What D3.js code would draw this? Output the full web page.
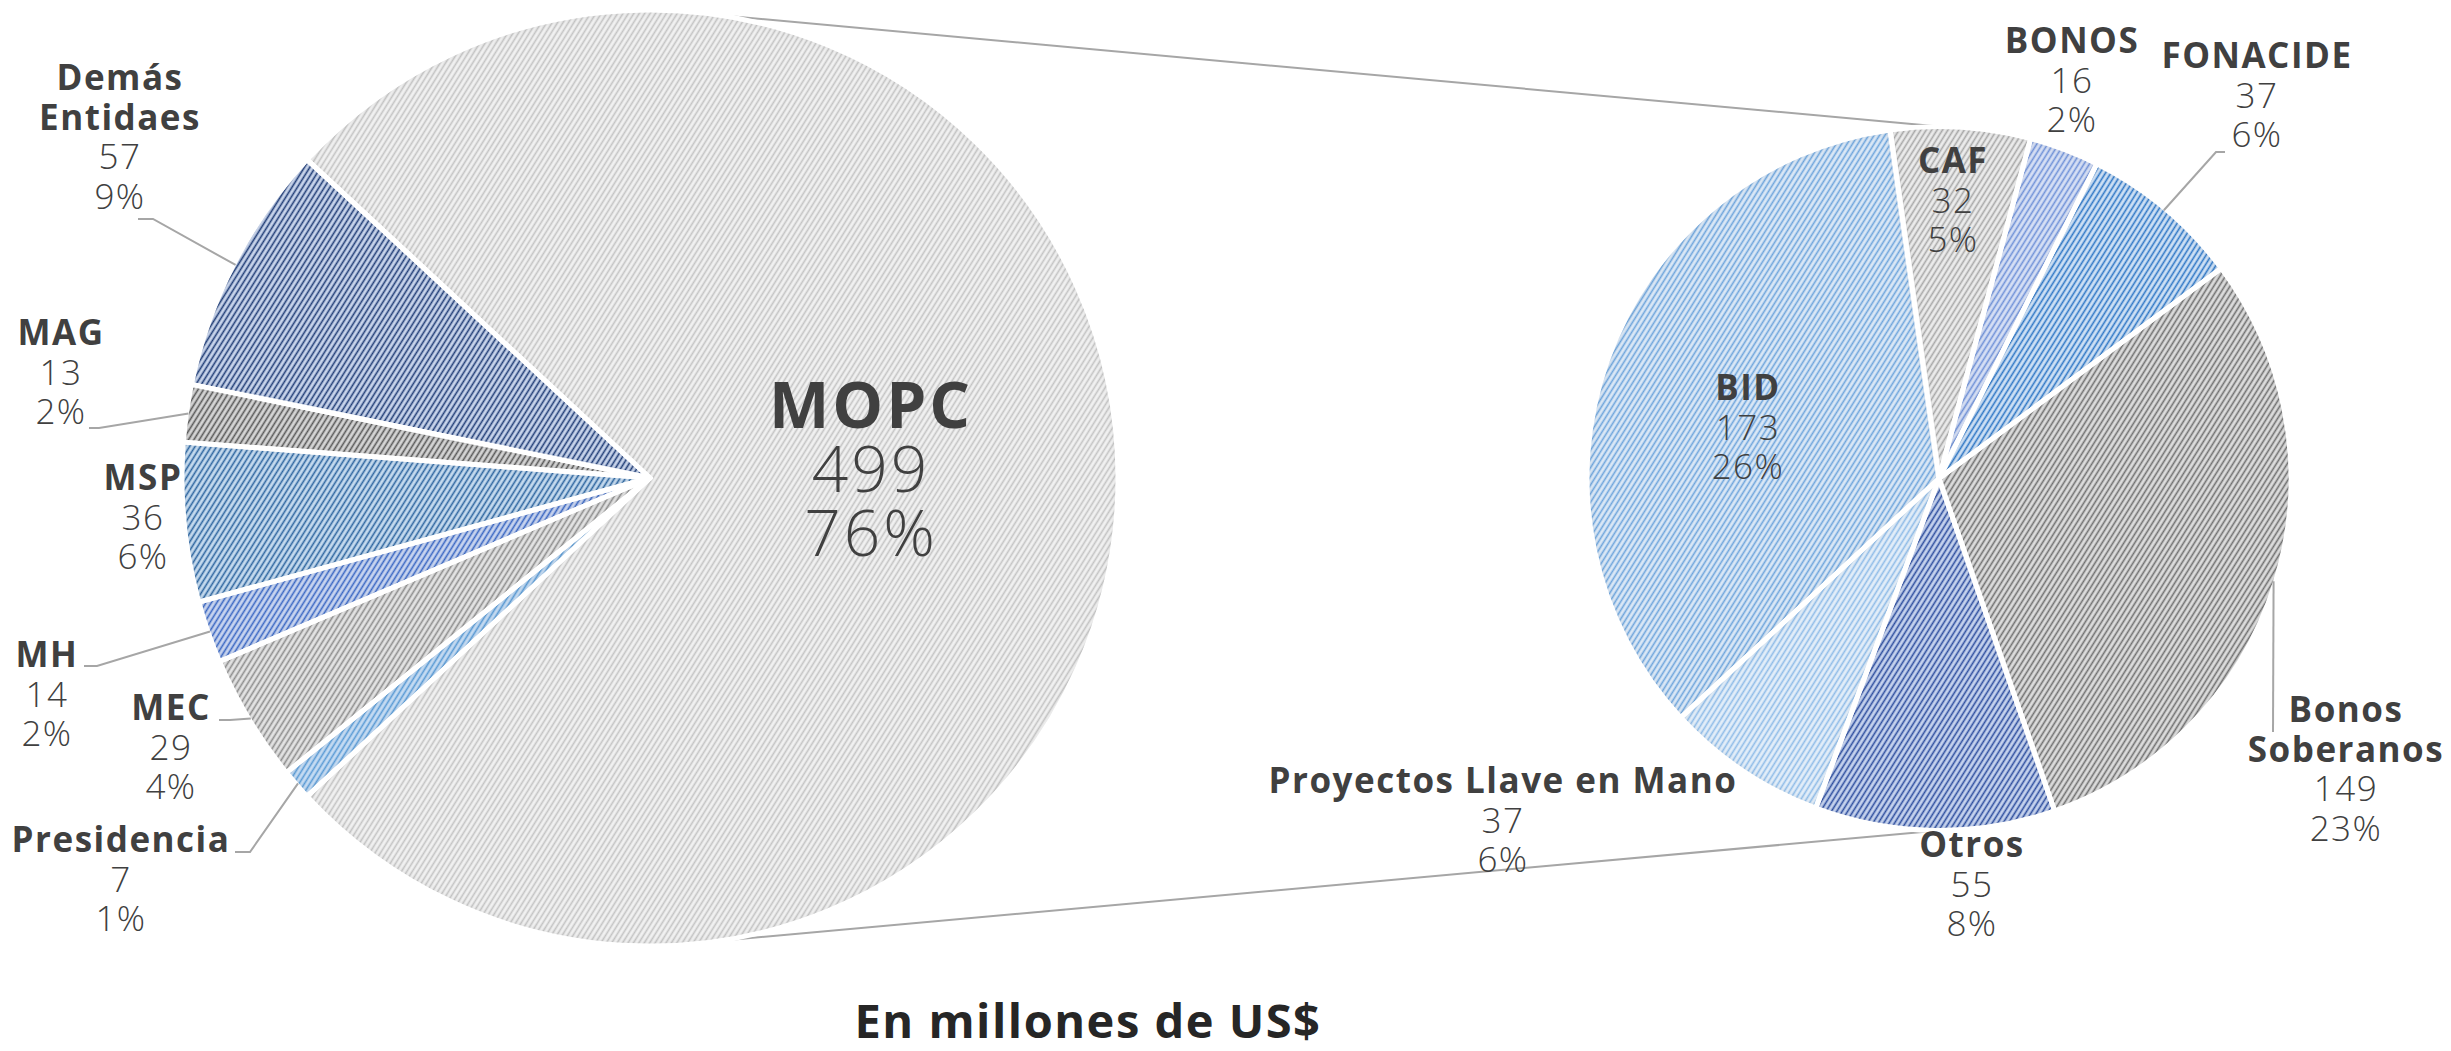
<!DOCTYPE html>
<html>
<head>
<meta charset="utf-8">
<script src="https://cdn.jsdelivr.net/npm/d3@7"></script>
<style>
  body { margin: 0; background: #fff; }
  text { font-family: "Open Sans", sans-serif; fill: #404040; }
</style>
</head>
<body>
<script>
// primer pie: entidades
var entidades = ["MOPC", "Presidencia", "MEC", "MH", "MSP", "MAG", "Demás Entidaes"];
var montos = [499, 7, 29, 14, 36, 13, 57];
var porcentajes = [76, 1, 4, 2, 6, 2, 9];

// segundo pie: fuentes del MOPC
var fuentes = ["CAF", "BONOS", "FONACIDE", "Bonos Soberanos", "Otros", "Proyectos Llave en Mano", "BID"];
var montosFuente = [32, 16, 37, 149, 55, 37, 173];
var porcentajesFuente = [5, 2, 6, 23, 8, 6, 26];

var titulo = "En millones de US$";

// estilos (fondo, trama)
var colores = {
	"MOPC": ["#f1f1f1", "#c4c4c4"],
	"Presidencia": ["#c6dcf3", "#5b9bd5"],
	"MEC": ["#e4e4e4", "#8e8e8e"],
	"MH": ["#c9d5f0", "#3b68c4"],
	"MSP": ["#c6dbef", "#2f66a0"],
	"MAG": ["#d6d6d6", "#595959"],
	"Demás Entidaes": ["#c9d5ec", "#233f78"],
	"CAF": ["#ececec", "#a8a8a8"],
	"BONOS": ["#d7e0f5", "#7092d8"],
	"FONACIDE": ["#cfe1f5", "#2f77c6"],
	"Bonos Soberanos": ["#dddddd", "#707070"],
	"Otros": ["#c6d3ee", "#2f4f9f"],
	"Proyectos Llave en Mano": ["#e3eef9", "#8fbce8"],
	"BID": ["#dbe8f6", "#6ea5dc"]
};

// posicion de etiquetas: centro x, primera linea base, codo y fin de la guia
var etiquetas = {
	"MOPC": {x: 871, y: 428, big: true},
	"Presidencia": {x: 121, y: 852, elbow: [250, 852], end: 235},
	"MEC": {x: 171, y: 720, elbow: [230, 720], end: 219},
	"MH": {x: 47, y: 667, elbow: [97, 666], end: 84},
	"MSP": {x: 143, y: 490},
	"MAG": {x: 61, y: 345, elbow: [99, 428], end: 89},
	"Demás Entidaes": {x: 120, y: 90, wrap: true, elbow: [153, 219], end: 138},
	"CAF": {x: 1953, y: 173},
	"BONOS": {x: 2072, y: 53},
	"FONACIDE": {x: 2257, y: 68, elbow: [2216, 152], end: 2225},
	"Bonos Soberanos": {x: 2346, y: 722, wrap: true, elbow: [2273, 732], end: 2273},
	"Otros": {x: 1972, y: 857},
	"Proyectos Llave en Mano": {x: 1503, y: 793},
	"BID": {x: 1748, y: 400}
};

var width = 2451, height = 1051;
var lineH = 39.5;

var svg = d3.select("body").append("svg")
	.attr("width", width)
	.attr("height", height);

var defs = svg.append("defs");

Object.keys(colores).forEach(function(k, i) {
	var p = defs.append("pattern")
		.attr("id", "h" + i)
		.attr("patternUnits", "userSpaceOnUse")
		.attr("width", 4.6)
		.attr("height", 10)
		.attr("patternTransform", "rotate(32)");
	p.append("rect").attr("width", 4.6).attr("height", 10).attr("fill", colores[k][0]);
	p.append("line")
		.attr("x1", 2.3).attr("x2", 2.3)
		.attr("y1", -1).attr("y2", 11)
		.attr("stroke", colores[k][1])
		.attr("stroke-width", 1.6);
	colores[k].id = "h" + i;
});

var f = defs.append("filter").attr("id", "inset")
	.attr("x", "-5%").attr("y", "-5%").attr("width", "110%").attr("height", "110%");
f.append("feFlood").attr("flood-color", "#000").attr("flood-opacity", 0.22).attr("result", "c");
f.append("feComposite").attr("in", "c").attr("in2", "SourceAlpha").attr("operator", "out").attr("result", "inv");
f.append("feGaussianBlur").attr("in", "inv").attr("stdDeviation", 5).attr("result", "blur");
f.append("feComposite").attr("in", "blur").attr("in2", "SourceAlpha").attr("operator", "in").attr("result", "sh");
var m = f.append("feMerge");
m.append("feMergeNode").attr("in", "SourceGraphic");
m.append("feMergeNode").attr("in", "sh");

var left = {cx: 650, cy: 478, r: 468};
var right = {cx: 1939, cy: 478.5, r: 352};

var total = d3.sum(montos);
var a0 = Math.PI / 2 - (montos[0] / total) * Math.PI;

var pieL = d3.pie().sort(null).value(function(d) { return d.v; })
	.startAngle(a0).endAngle(a0 + 2 * Math.PI);
var startR = -8 * Math.PI / 180;
var pieR = d3.pie().sort(null).value(function(d) { return d.v; })
	.startAngle(startR).endAngle(startR + 2 * Math.PI);

var dataL = pieL(entidades.map(function(n, i) { return {n: n, v: montos[i], p: porcentajes[i]}; }));
var dataR = pieR(fuentes.map(function(n, i) { return {n: n, v: montosFuente[i], p: porcentajesFuente[i]}; }));

function pt(c, r, a) {
	return [c.cx + r * Math.sin(a), c.cy - r * Math.cos(a)];
}

// lineas de conexion
var conn = [
	[pt(left, left.r, 8.6 * Math.PI / 180), pt(right, right.r, 0)],
	[pt(left, left.r, 171.4 * Math.PI / 180), pt(right, right.r, Math.PI)]
];
svg.selectAll(".conn")
	.data(conn)
	.enter().append("line")
	.attr("x1", d => d[0][0]).attr("y1", d => d[0][1])
	.attr("x2", d => d[1][0]).attr("y2", d => d[1][1])
	.attr("stroke", "#a6a6a6")
	.attr("stroke-width", 2);

function drawPie(c, data) {
	var arc = d3.arc().innerRadius(0).outerRadius(c.r);
	var g = svg.append("g").attr("transform", "translate(" + c.cx + "," + c.cy + ")");
	g.selectAll("path.fill")
		.data(data)
		.enter().append("path")
		.attr("class", "fill")
		.attr("d", arc)
		.attr("fill", d => "url(#" + colores[d.data.n].id + ")")
		.attr("filter", "url(#inset)");
	g.selectAll("path.edge")
		.data(data)
		.enter().append("path")
		.attr("class", "edge")
		.attr("d", arc)
		.attr("fill", "none")
		.attr("stroke", "#fff")
		.attr("stroke-width", 5)
		.attr("stroke-linejoin", "round");

	data.forEach(function(d) {
		var l = etiquetas[d.data.n];
		if (l.elbow) {
			var mid = (d.startAngle + d.endAngle) / 2;
			var s = pt(c, c.r - 2, mid);
			svg.append("polyline")
				.attr("points", [s, l.elbow, [l.end, l.elbow[1]]].map(p => p.join(",")).join(" "))
				.attr("fill", "none")
				.attr("stroke", "#a6a6a6")
				.attr("stroke-width", 2);
		}
		var size = l.big ? 64 : 35;
		var lh = l.big ? 64 : lineH;
		var lines = l.wrap ? d.data.n.split(" ") : [d.data.n];
		var t = svg.append("text")
			.attr("text-anchor", "middle")
			.attr("font-size", size)
			.attr("letter-spacing", l.big ? 3 : 1.5);
		var rows = lines.map(s => [s, 700]).concat([[d.data.v, 300], [d.data.p + "%", 300]]);
		rows.forEach(function(r, i) {
			t.append("tspan")
				.attr("x", l.x)
				.attr("y", l.y + i * lh)
				.attr("font-weight", r[1])
				.text(r[0]);
		});
	});
}

drawPie(left, dataL);
drawPie(right, dataR);

svg.append("text")
	.attr("x", 1088)
	.attr("y", 1038)
	.attr("text-anchor", "middle")
	.attr("font-size", 47)
	.attr("font-weight", 700)
	.attr("letter-spacing", 1.5)
	.style("fill", "#262626")
	.text(titulo);
</script>
</body>
</html>
